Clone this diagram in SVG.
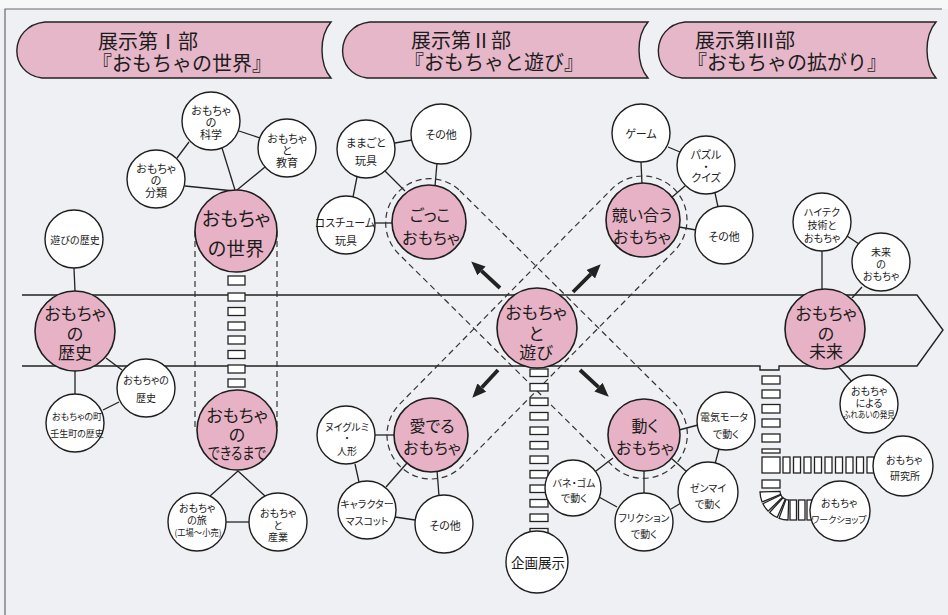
<svg xmlns="http://www.w3.org/2000/svg" width="948" height="615" viewBox="0 0 948 615">
<defs>
<style>
.t{font-family:"Noto Sans CJK JP","Noto Sans CJK SC",sans-serif;fill:#1c1c1c;text-anchor:middle;dominant-baseline:central;font-feature-settings:"palt"}
.t tspan{dominant-baseline:central}
.hd{font-size:20px;text-anchor:start;font-feature-settings:normal}
.b19{font-size:19px}.b17{font-size:17px}.b16{font-size:16px}
.s11{font-size:11px}.s10{font-size:10px}.s9{font-size:9px}.s13{font-size:13.5px}
.pk{fill:#e8b2c6;stroke:#1e1e1e;stroke-width:1.6}
.wc{fill:#ffffff;stroke:#1e1e1e;stroke-width:1.4}
.tab{fill:#e6b7c9;stroke:#222;stroke-width:1.4}
.ln{stroke:#222;stroke-width:1.3;fill:none}
.ds{stroke:#333;stroke-width:1.2;fill:none;stroke-dasharray:6 4}
.bd{stroke:#222;stroke-width:1.4;fill:none}
.st{fill:#fff;stroke:#222;stroke-width:1.3}
.ar{stroke:#222;stroke-width:3.8;fill:none;marker-end:url(#ah)}
</style>
<marker id="ah" markerUnits="userSpaceOnUse" markerWidth="14" markerHeight="12" refX="0" refY="6" orient="auto" viewBox="0 0 14 12">
<path d="M0,0 L14,6 L0,12 Z" fill="#222"/>
</marker>
</defs>
<rect x="0" y="0" width="948" height="615" fill="#eef0f3"/>
<rect x="0" y="0" width="948" height="9" fill="#f6f7f8"/>
<path d="M5,615 V9 H942" fill="none" stroke="#6a6a6a" stroke-width="1.2"/>

<g id="headers">
<g id="tab1">
<path class="tab" d="M45,22 L331,22 C319,36 319,64 331,78 L42,78 C8,74 8,26 45,22 Z"/>
<text class="t hd"><tspan x="98" y="40">展示第Ⅰ部</tspan><tspan x="92" y="62">『おもちゃの世界』</tspan></text>
</g>
<g id="tab2">
<path class="tab" d="M370,22 L648,22 C636,36 636,64 648,78 L367,78 C334,74 334,26 370,22 Z"/>
<text class="t hd"><tspan x="411" y="39">展示第Ⅱ部</tspan><tspan x="404" y="61">『おもちゃと遊び』</tspan></text>
</g>
<g id="tab3">
<path class="tab" d="M685,22 L936,22 C924,36 924,64 936,78 L682,78 C650,74 650,26 685,22 Z"/>
<text class="t hd"><tspan x="695" y="39">展示第Ⅲ部</tspan><tspan x="687" y="61">『おもちゃの拡がり』</tspan></text>
</g>
</g>

<g id="band">
<path class="bd" d="M22,295 H917 L943,330 L917,366 H779 V370 H760 V366 H22"/>
</g>

<g id="connectors">
<line class="ln" x1="222" y1="148" x2="235" y2="190"/>
<line class="ln" x1="185" y1="186" x2="234" y2="191"/>
<line class="ln" x1="265" y1="167" x2="237" y2="190"/>
<line class="ln" x1="189" y1="142" x2="177" y2="158"/>
<line class="ln" x1="239" y1="131" x2="260" y2="138"/>
<line class="ln" x1="74" y1="268" x2="75" y2="291"/>
<line class="ln" x1="75" y1="371" x2="75" y2="394"/>
<line class="ln" x1="106" y1="358" x2="122" y2="370"/>
<line class="ln" x1="103" y1="410" x2="119" y2="402"/>
<line class="ln" x1="238" y1="471" x2="210" y2="496"/>
<line class="ln" x1="238" y1="471" x2="265" y2="496"/>
<line class="ln" x1="226" y1="522" x2="249" y2="522"/>
<line class="ln" x1="395" y1="143" x2="412" y2="140"/>
<line class="ln" x1="437" y1="163" x2="435" y2="186"/>
<line class="ln" x1="385" y1="171" x2="405" y2="191"/>
<line class="ln" x1="357" y1="177" x2="353" y2="197"/>
<line class="ln" x1="375" y1="223" x2="393" y2="223"/>
<line class="ln" x1="375" y1="435" x2="395" y2="435"/>
<line class="ln" x1="355" y1="464" x2="359" y2="482"/>
<line class="ln" x1="386" y1="487" x2="407" y2="463"/>
<line class="ln" x1="395" y1="517" x2="415" y2="520"/>
<line class="ln" x1="437" y1="470" x2="439" y2="496"/>
<line class="ln" x1="641" y1="162" x2="642" y2="184"/>
<line class="ln" x1="668" y1="147" x2="680" y2="152"/>
<line class="ln" x1="685" y1="186" x2="671" y2="198"/>
<line class="ln" x1="715" y1="193" x2="718" y2="207"/>
<line class="ln" x1="679" y1="227" x2="696" y2="230"/>
<line class="ln" x1="679" y1="430" x2="698" y2="425"/>
<line class="ln" x1="719" y1="449" x2="715" y2="464"/>
<line class="ln" x1="671" y1="458" x2="687" y2="472"/>
<line class="ln" x1="644" y1="470" x2="644" y2="494"/>
<line class="ln" x1="671" y1="509" x2="681" y2="503"/>
<line class="ln" x1="599" y1="497" x2="617" y2="507"/>
<line class="ln" x1="596" y1="471" x2="613" y2="458"/>
<line class="ln" x1="822" y1="251" x2="822" y2="290"/>
<line class="ln" x1="847" y1="236" x2="859" y2="244"/>
<line class="ln" x1="862" y1="287" x2="852" y2="298"/>
<line class="ln" x1="838" y1="366" x2="852" y2="382"/>
</g>

<g id="groupings">
<line class="ds" x1="195" y1="231" x2="195" y2="430"/>
<line class="ds" x1="277" y1="231" x2="277" y2="430"/>
<path class="ds" d="M459.96,190.75 L674.96,403.75 A44,44 0 0 1 613.04,466.25 L398.04,253.25 A44,44 0 0 1 459.96,190.75 Z"/>
<path class="ds" d="M674.34,250.9 L462.34,465.9 A44,44 0 0 1 399.66,404.1 L611.66,189.1 A44,44 0 0 1 674.34,250.9 Z"/>
</g>

<g id="arrows">
<line class="ar" x1="500" y1="288" x2="481.5" y2="270.9"/>
<line class="ar" x1="573" y1="292" x2="590.8" y2="274.2"/>
<line class="ar" x1="498" y1="370" x2="481.8" y2="387.5"/>
<line class="ar" x1="580" y1="370" x2="598.5" y2="387.2"/>
</g>

<g id="steps">
<g id="ladder1">
<rect class="st" x="228" y="276" width="17" height="9"/>
<rect class="st" x="228" y="293" width="17" height="8"/>
<rect class="st" x="228" y="307.5" width="17" height="8"/>
<rect class="st" x="228" y="322" width="17" height="8"/>
<rect class="st" x="228" y="336" width="17" height="8"/>
<rect class="st" x="228" y="350.5" width="17" height="8"/>
<rect class="st" x="228" y="365" width="17" height="8"/>
<rect class="st" x="228" y="379" width="17" height="8"/>
</g>
<g id="ladder2">
<rect class="st" x="530" y="369" width="18" height="7.5"/>
<rect class="st" x="530" y="383.5" width="18" height="7.5"/>
<rect class="st" x="530" y="398" width="18" height="7.5"/>
<rect class="st" x="530" y="412.5" width="18" height="7.5"/>
<rect class="st" x="530" y="427" width="18" height="7.5"/>
<rect class="st" x="530" y="441.5" width="18" height="7.5"/>
<rect class="st" x="530" y="456" width="18" height="7.5"/>
<rect class="st" x="530" y="470.5" width="18" height="7.5"/>
<rect class="st" x="530" y="485" width="18" height="7.5"/>
<rect class="st" x="530" y="499.5" width="18" height="7.5"/>
<rect class="st" x="530" y="514" width="18" height="7.5"/>
<rect class="st" x="530" y="528.5" width="18" height="7.5"/>
</g>
<g id="ladder3">
<rect class="st" x="762" y="376" width="18" height="8"/>
<rect class="st" x="762" y="390" width="18" height="8"/>
<rect class="st" x="762" y="404.5" width="18" height="8.5"/>
<rect class="st" x="762" y="419" width="18" height="8"/>
<rect class="st" x="762" y="434" width="18" height="8"/>
<rect class="st" x="762" y="449" width="18" height="4"/>
<rect class="st" x="762" y="457" width="18" height="16"/>
<rect class="st" x="762" y="480" width="18" height="8"/>
<path class="st" d="M760,492 A29,29 0 0 0 762.1,501.9 L780.7,494.4 A9,9 0 0 1 780,491.3 Z"/>
<path class="st" d="M762.9,503.7 A29,29 0 0 0 768.1,511.1 L782.5,497.3 A9,9 0 0 1 780.9,495 Z"/>
<path class="st" d="M769.6,512.5 A29,29 0 0 0 777.2,517.5 L785.3,499.2 A9,9 0 0 1 783,497.7 Z"/>
<path class="st" d="M779.1,518.3 A29,29 0 0 0 788,520 L788.7,500 A9,9 0 0 1 785.9,499.5 Z"/>
<rect class="st" x="790" y="500" width="6.5" height="20"/>
<rect class="st" x="798.5" y="500" width="6.5" height="20"/>
<rect class="st" x="807" y="500" width="6.5" height="20"/>
<rect class="st" x="783" y="457" width="7" height="16"/>
<rect class="st" x="793.5" y="457" width="7" height="16"/>
<rect class="st" x="804" y="457" width="7" height="16"/>
<rect class="st" x="814.5" y="457" width="7" height="16"/>
<rect class="st" x="825" y="457" width="7" height="16"/>
<rect class="st" x="835.5" y="457" width="7" height="16"/>
<rect class="st" x="846" y="457" width="7" height="16"/>
<rect class="st" x="856.5" y="457" width="7" height="16"/>
<rect class="st" x="867" y="457" width="7" height="16"/>
</g>
</g>

<g id="n_rekishi"><circle class="pk" cx="75" cy="331" r="40"/><text class="t b17"><tspan x="75" y="312">おもちゃ</tspan><tspan x="75" y="332">の</tspan><tspan x="75" y="351">歴史</tspan></text></g>
<g id="n_sekai"><circle class="pk" cx="236" cy="231" r="41"/><text class="t b19"><tspan x="236" y="217">おもちゃ</tspan><tspan x="236" y="247">の世界</tspan></text></g>
<g id="n_dekiru"><circle class="pk" cx="237" cy="430" r="40"/><text class="t b17"><tspan x="237" y="414">おもちゃ</tspan><tspan x="237" y="433">の</tspan><tspan x="237" y="452" font-size="16" textLength="58" lengthAdjust="spacingAndGlyphs">できるまで</tspan></text></g>
<g id="n_gokko"><circle class="pk" cx="429" cy="222" r="37"/><text class="t b16"><tspan x="430" y="214">ごっこ</tspan><tspan x="431" y="237">おもちゃ</tspan></text></g>
<g id="n_kisoi"><circle class="pk" cx="643" cy="220" r="37"/><text class="t b16"><tspan x="642" y="214">競い合う</tspan><tspan x="642" y="236">おもちゃ</tspan></text></g>
<g id="n_asobi"><circle class="pk" cx="537" cy="328" r="40"/><text class="t b17"><tspan x="536" y="311">おもちゃ</tspan><tspan x="536" y="332">と</tspan><tspan x="536" y="351">遊び</tspan></text></g>
<g id="n_mederu"><circle class="pk" cx="431" cy="435" r="37"/><text class="t b16"><tspan x="432" y="425">愛でる</tspan><tspan x="432" y="447">おもちゃ</tspan></text></g>
<g id="n_ugoku"><circle class="pk" cx="644" cy="435" r="36"/><text class="t b16"><tspan x="645" y="425">動く</tspan><tspan x="645" y="447">おもちゃ</tspan></text></g>
<g id="n_mirai"><circle class="pk" cx="825" cy="329" r="40"/><text class="t b17"><tspan x="826" y="312">おもちゃ</tspan><tspan x="826" y="332">の</tspan><tspan x="826" y="350">未来</tspan></text></g>

<g id="n_asobireki"><circle class="wc" cx="74" cy="239" r="29"/><text class="t s10" x="75" y="239">遊びの歴史</text></g>
<g id="n_bunrui"><circle class="wc" cx="156" cy="179" r="29"/><text class="t s11"><tspan x="156" y="168">おもちゃ</tspan><tspan x="156" y="180">の</tspan><tspan x="156" y="192">分類</tspan></text></g>
<g id="n_kagaku"><circle class="wc" cx="211" cy="121" r="29"/><text class="t s11"><tspan x="211" y="110">おもちゃ</tspan><tspan x="211" y="122">の</tspan><tspan x="211" y="134">科学</tspan></text></g>
<g id="n_kyoiku"><circle class="wc" cx="287" cy="148" r="29"/><text class="t s11"><tspan x="287" y="138">おもちゃ</tspan><tspan x="287" y="150">と</tspan><tspan x="287" y="162">教育</tspan></text></g>
<g id="n_rekishi2"><circle class="wc" cx="146" cy="388" r="29"/><text class="t s10"><tspan x="146" y="379">おもちゃの</tspan><tspan x="146" y="397">歴史</tspan></text></g>
<g id="n_machi"><circle class="wc" cx="75" cy="423" r="29"/><text class="t s9"><tspan x="77" y="416">おもちゃの町</tspan><tspan x="77" y="433">壬生町の歴史</tspan></text></g>
<g id="n_tabi"><circle class="wc" cx="197" cy="522" r="29"/><text class="t s10"><tspan x="197" y="507">おもちゃ</tspan><tspan x="197" y="519">の旅</tspan><tspan x="198" y="532" font-size="9" textLength="47" lengthAdjust="spacingAndGlyphs">(工場〜小売)</tspan></text></g>
<g id="n_sangyo"><circle class="wc" cx="278" cy="522" r="29"/><text class="t s10"><tspan x="278" y="512">おもちゃ</tspan><tspan x="278" y="524">と</tspan><tspan x="278" y="536">産業</tspan></text></g>
<g id="n_mamagoto"><circle class="wc" cx="366" cy="149" r="29"/><text class="t s11"><tspan x="366" y="142">ままごと</tspan><tspan x="366" y="160">玩具</tspan></text></g>
<g id="n_sonota1"><circle class="wc" cx="441" cy="134" r="30"/><text class="t s11" x="441" y="134">その他</text></g>
<g id="n_costume"><circle class="wc" cx="346" cy="225" r="29"/><text class="t s11"><tspan x="345" y="222">コスチューム</tspan><tspan x="346" y="240">玩具</tspan></text></g>
<g id="n_nuigurumi"><circle class="wc" cx="346" cy="435" r="29"/><text class="t s10"><tspan x="347" y="426">ヌイグルミ</tspan><tspan x="347" y="437">・</tspan><tspan x="347" y="450">人形</tspan></text></g>
<g id="n_chara"><circle class="wc" cx="367" cy="510" r="29"/><text class="t s10"><tspan x="367" y="503">キャラクター</tspan><tspan x="367" y="520">マスコット</tspan></text></g>
<g id="n_sonota2"><circle class="wc" cx="444" cy="524" r="29"/><text class="t s11" x="445" y="525">その他</text></g>
<g id="n_kikaku"><circle class="wc" cx="537" cy="562" r="31"/><text class="t s13" x="538" y="562">企画展示</text></g>
<g id="n_bane"><circle class="wc" cx="573" cy="488" r="28"/><text class="t s10"><tspan x="574" y="482">バネ・ゴム</tspan><tspan x="574" y="497">で動く</tspan></text></g>
<g id="n_game"><circle class="wc" cx="641" cy="133" r="29"/><text class="t s11" x="641" y="133">ゲーム</text></g>
<g id="n_puzzle"><circle class="wc" cx="706" cy="165" r="29"/><text class="t s11"><tspan x="706" y="154">パズル</tspan><tspan x="706" y="166">・</tspan><tspan x="706" y="177">クイズ</tspan></text></g>
<g id="n_sonota3"><circle class="wc" cx="724" cy="235" r="29"/><text class="t s11" x="724" y="236">その他</text></g>
<g id="n_denki"><circle class="wc" cx="726" cy="421" r="29"/><text class="t s10"><tspan x="724" y="416">電気モータ</tspan><tspan x="726" y="433">で動く</tspan></text></g>
<g id="n_zenmai"><circle class="wc" cx="708" cy="492" r="30"/><text class="t s10"><tspan x="708" y="487">ゼンマイ</tspan><tspan x="708" y="503">で動く</tspan></text></g>
<g id="n_friction"><circle class="wc" cx="644" cy="522" r="29"/><text class="t s10"><tspan x="644" y="517">フリクション</tspan><tspan x="644" y="533">で動く</tspan></text></g>
<g id="n_hitech"><circle class="wc" cx="822" cy="222" r="29"/><text class="t s10"><tspan x="822" y="211">ハイテク</tspan><tspan x="822" y="224">技術と</tspan><tspan x="822" y="237">おもちゃ</tspan></text></g>
<g id="n_mirai2"><circle class="wc" cx="881" cy="262" r="29"/><text class="t s10"><tspan x="881" y="251">未来</tspan><tspan x="881" y="263">の</tspan><tspan x="881" y="275">おもちゃ</tspan></text></g>
<g id="n_fureai"><circle class="wc" cx="869" cy="404" r="29"/><text class="t s10"><tspan x="869" y="390">おもちゃ</tspan><tspan x="869" y="402">による</tspan><tspan x="869" y="414" font-size="9" textLength="52" lengthAdjust="spacingAndGlyphs">ふれあいの発見</tspan></text></g>
<g id="n_kenkyu"><circle class="wc" cx="903" cy="466" r="30"/><text class="t s10"><tspan x="904" y="459">おもちゃ</tspan><tspan x="905" y="475">研究所</tspan></text></g>
<g id="n_workshop"><circle class="wc" cx="840" cy="511" r="30"/><text class="t s10"><tspan x="839" y="502">おもちゃ</tspan><tspan x="839" y="519" font-size="9">ワークショップ</tspan></text></g>
</svg>
